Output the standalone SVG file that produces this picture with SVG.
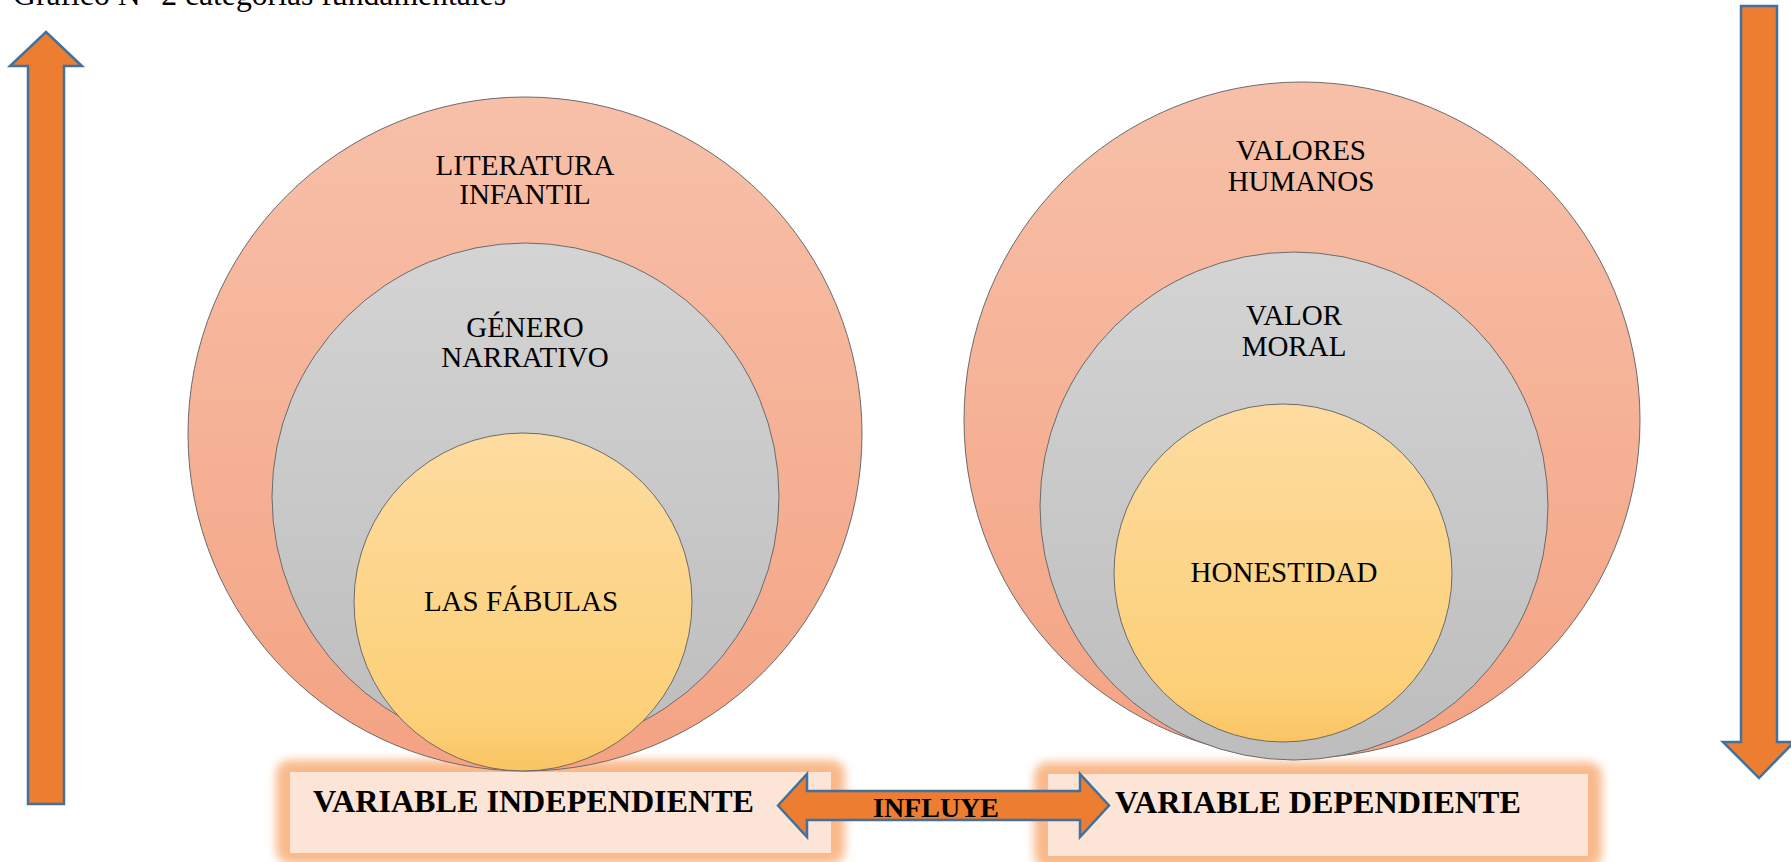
<svg xmlns="http://www.w3.org/2000/svg" width="1791" height="862" viewBox="0 0 1791 862">
<style>
.lbl{font-family:"Liberation Serif","Times New Roman",serif;font-size:29px;fill:#000;text-anchor:middle}
.bold{font-family:"Liberation Serif","Times New Roman",serif;font-weight:bold;fill:#000}
.circ{stroke:#6b6b6b;stroke-width:1}
.arrow{fill:#ED7D31;stroke:#41719C;stroke-width:2.5;stroke-linejoin:miter}
.box{fill:#FCE4D6}
.glow{fill:#F9B98A;filter:url(#blur)}
</style>
<defs>
<linearGradient id="gOuter" x1="0" y1="0" x2="0" y2="1">
<stop offset="0" stop-color="#F7C0A9"/>
<stop offset="1" stop-color="#F4A383"/>
</linearGradient>
<linearGradient id="gGray" x1="0" y1="0" x2="0" y2="1">
<stop offset="0" stop-color="#D4D4D4"/>
<stop offset="1" stop-color="#BDBDBD"/>
</linearGradient>
<linearGradient id="gYellow" x1="0" y1="0" x2="0" y2="1">
<stop offset="0" stop-color="#FEDCA0"/>
<stop offset="0.85" stop-color="#FCD078"/>
<stop offset="1" stop-color="#FAC462"/>
</linearGradient>
<filter id="blur" x="-10%" y="-30%" width="120%" height="160%">
<feGaussianBlur stdDeviation="5"/>
</filter>
</defs>
<rect width="1791" height="862" fill="#fff"/>

<text x="13" y="5" font-family="Liberation Serif, Times New Roman, serif" font-size="31" textLength="493" lengthAdjust="spacingAndGlyphs">Gráfico N° 2 categorías fundamentales</text>

<g id="arrow-up">
<polygon class="arrow" points="46,32 82,66 64,66 64,804 28,804 28,66 10,66"/>
</g>
<g id="arrow-down">
<polygon class="arrow" points="1741,6 1777,6 1777,742 1794,742 1759,778 1723,742 1741,742"/>
</g>

<g id="box-independiente">
<rect class="glow" x="276" y="760" width="569" height="104" rx="14"/>
<rect class="box" x="290" y="772" width="541" height="81"/>
<text class="bold" x="313" y="812" font-size="31" textLength="441" lengthAdjust="spacingAndGlyphs">VARIABLE INDEPENDIENTE</text>
</g>
<g id="box-dependiente">
<rect class="glow" x="1034" y="762" width="568" height="106" rx="14"/>
<rect class="box" x="1048" y="774" width="540" height="82"/>
<text class="bold" x="1115" y="813" font-size="31" textLength="406" lengthAdjust="spacingAndGlyphs">VARIABLE DEPENDIENTE</text>
</g>

<g id="literatura-infantil">
<circle class="circ" cx="525" cy="434" r="337" fill="url(#gOuter)"/>
<text class="lbl" x="525" y="175">LITERATURA</text>
<text class="lbl" x="525" y="204">INFANTIL</text>
</g>
<g id="genero-narrativo">
<circle class="circ" cx="525.5" cy="496.5" r="253.5" fill="url(#gGray)"/>
<text class="lbl" x="525" y="337">GÉNERO</text>
<text class="lbl" x="525" y="367">NARRATIVO</text>
</g>
<g id="las-fabulas">
<circle class="circ" cx="523" cy="602" r="169" fill="url(#gYellow)"/>
<text class="lbl" x="521" y="611">LAS FÁBULAS</text>
</g>

<g id="valores-humanos">
<circle class="circ" cx="1302" cy="420" r="338" fill="url(#gOuter)"/>
<text class="lbl" x="1301" y="160">VALORES</text>
<text class="lbl" x="1301" y="191">HUMANOS</text>
</g>
<g id="valor-moral">
<circle class="circ" cx="1294" cy="506" r="254" fill="url(#gGray)"/>
<text class="lbl" x="1294" y="325">VALOR</text>
<text class="lbl" x="1294" y="356">MORAL</text>
</g>
<g id="honestidad">
<circle class="circ" cx="1283" cy="573" r="169" fill="url(#gYellow)"/>
<text class="lbl" x="1284" y="582">HONESTIDAD</text>
</g>

<g id="connectors">
<polygon class="arrow" points="778,805.5 807,774 807,791 1080,791 1080,774 1109,805.5 1080,837 1080,820 807,820 807,837"/>
<text class="bold" x="873" y="817" font-size="27" textLength="126" lengthAdjust="spacingAndGlyphs">INFLUYE</text>
</g>
</svg>
